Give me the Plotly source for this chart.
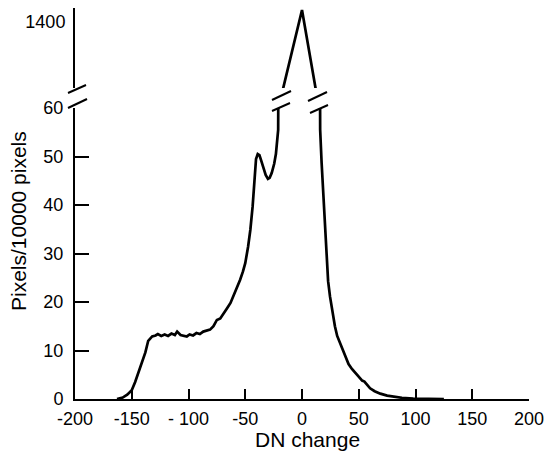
import plotly.graph_objects as go

# Histogram of DN change (lower panel, 0-60 scale)
dn_change = [-163, -158, -154, -150, -147, -144, -141, -138, -135.5, -132, -129, -127, -124,
             -121, -118, -115, -112, -110, -107, -104, -101.5, -99, -96, -93, -90, -87, -84,
             -81, -78, -75, -72, -69, -66, -63, -60, -57, -54.5, -52, -50, -47.5, -45.5,
             -43.5, -42, -40.5, -39, -37.5, -36, -34, -32, -30, -28.5, -26.7, -24.5, -23,
             -21.8, -21, 0, 16, 17.3, 18.5, 19.4, 20.5, 21.7, 23, 24.7, 27, 29, 31, 33.5,
             36, 38, 41, 44, 47, 50, 52, 53, 55, 57, 60, 64, 69, 75, 80, 88, 98, 110, 125]
pixels = [0, 0.3, 0.9, 1.8, 3.5, 5.5, 7.3, 9.6, 12.0, 12.9, 13.1, 13.4, 13.0,
          13.3, 13.0, 13.5, 13.2, 13.9, 13.2, 13.0, 12.9, 13.3, 13.1, 13.6, 13.4, 13.9, 14.1,
          14.3, 15.0, 16.3, 16.6, 17.8, 18.7, 19.8, 21.5, 23.0, 24.6, 26.3, 28.0, 31.4, 34.9,
          39.7, 45.2, 49.5, 50.5, 50.3, 49.2, 47.6, 46.2, 45.4, 45.6, 46.6, 48.5, 50.5,
          53.4, 55.5, 1443, 55.5, 48.6, 43.0, 38.3, 33.0, 28.0, 24.3, 21.1, 17.5, 15.0, 13.0, 11.5,
          9.8, 8.6, 7.2, 6.2, 5.4, 4.6, 4.3, 3.8, 3.6, 3.0, 2.2, 1.6, 1.1, 0.7, 0.5, 0.25, 0.08, 0.03, 0]

# Peak segment shown on the upper (broken) scale
peak_x = [-20, 0, 16]
peak_y = [1106, 1443, 1069]

x_ticks = [-200, -150, -100, -50, 0, 50, 100, 150, 200]
x_ticktext = ["-200", "-150", "- 100", "-50", "0", "50", "100", "150", "200"]
y_ticks = [0, 10, 20, 30, 40, 50, 60]
y2_ticks = [1400]

FONT = "Liberation Sans, Arial, Helvetica, sans-serif"
W, H = 545, 454
L, R, T, B = 75, 16, 8, 55
PW, PH = W - L - R, H - T - B


def px(xp):
    return (xp - L) / PW


def py(yp):
    return (H - B - yp) / PH


fig = go.Figure()
fig.add_trace(go.Scatter(x=dn_change, y=pixels, mode="lines",
                         line=dict(color="black", width=2.7), xaxis="x", yaxis="y",
                         showlegend=False))
fig.add_trace(go.Scatter(x=peak_x, y=peak_y, mode="lines",
                         line=dict(color="black", width=2.7), xaxis="x", yaxis="y2",
                         showlegend=False))

# break marks (pixel pairs -> paper)
breaks = [
    ((68, 93), (86, 85)), ((68, 108), (87, 99)),
    ((272, 100), (291, 91)), ((272, 111), (290, 103)),
    ((308, 101), (327, 92)), ((310, 113), (328, 105)),
]
shapes = []
for (a, b) in breaks:
    shapes.append(dict(type="line", xref="paper", yref="paper",
                       x0=px(a[0]), y0=py(a[1]), x1=px(b[0]), y1=py(b[1]),
                       line=dict(color="black", width=2)))

fig.update_layout(
    width=W, height=H,
    margin=dict(l=L, r=R, t=T, b=B, autoexpand=False),
    paper_bgcolor="white", plot_bgcolor="white",
    font=dict(family=FONT, size=18, color="black"),
    xaxis=dict(range=[-200, 200], tickvals=x_ticks, ticktext=x_ticktext,
               ticks="inside", ticklen=10, tickwidth=2, tickcolor="black",
               ticklabelstandoff=2,
               showline=True, linecolor="black", linewidth=2,
               showgrid=False, zeroline=False, anchor="y", automargin=False),
    yaxis=dict(domain=[0, py(108)], range=[0, 60], tickvals=y_ticks,
               ticks="inside", ticklen=14, tickwidth=2, tickcolor="black",
               ticklabelstandoff=6,
               showline=True, linecolor="black", linewidth=2,
               showgrid=False, zeroline=False, anchor="x", automargin=False),
    yaxis2=dict(domain=[py(88), 1], range=[1164.3, 1450], tickvals=y2_ticks,
                ticks="", ticklabelstandoff=4,
                showline=True, linecolor="black", linewidth=2,
                showgrid=False, zeroline=False, anchor="x", automargin=False),
    shapes=shapes,
    annotations=[
        dict(text="Pixels/10000 pixels", textangle=-90, showarrow=False,
             xref="paper", yref="paper", x=px(19), y=py(221),
             xanchor="center", yanchor="middle", font=dict(size=21)),
        dict(text="DN change", showarrow=False,
             xref="paper", yref="paper", x=px(307), y=py(440),
             xanchor="center", yanchor="middle", font=dict(size=21)),
    ],
)

fig.write_html("out.html", config={"displayModeBar": False},
               post_script="document.body.style.margin='0';document.body.style.overflow='hidden';")
